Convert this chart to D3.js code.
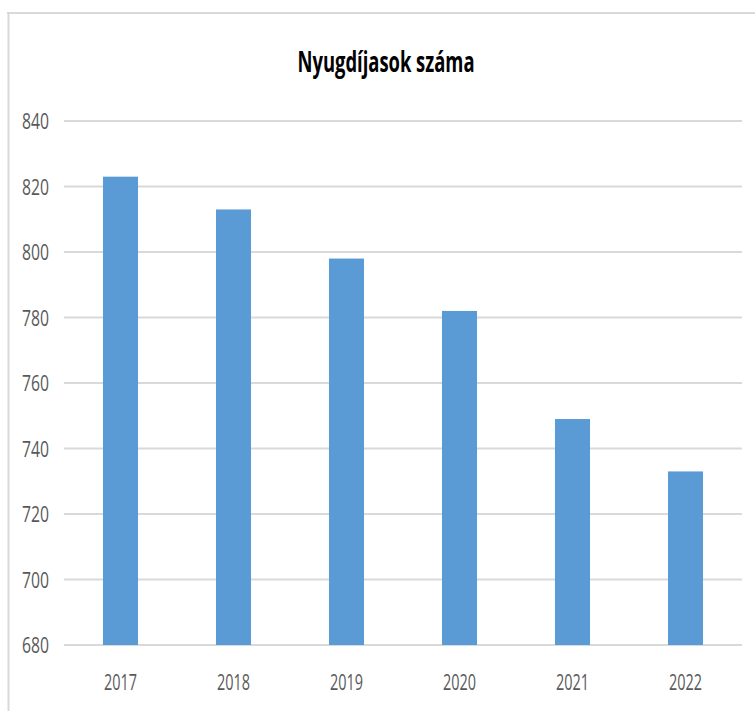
<!DOCTYPE html>
<html>
<head>
<meta charset="utf-8">
<script src="https://cdn.jsdelivr.net/npm/d3@7"></script>
<style>
  html, body { margin: 0; padding: 0; background: #fff; }
  svg { display: block; }
</style>
</head>
<body>
<script>
// Pensioner counts by year
const years = ["2017", "2018", "2019", "2020", "2021", "2022"];
const pensioners = [823, 813, 798, 782, 749, 733];
const yTicks = [680, 700, 720, 740, 760, 780, 800, 820, 840];
const title = "Nyugdíjasok száma";

const W = 755, H = 711;
const svg = d3.select("body").append("svg")
  .attr("width", W).attr("height", H);

// Frame (top and left edges)
svg.append("line").attr("x1", 7).attr("x2", W).attr("y1", 13).attr("y2", 13)
  .attr("stroke", "#d9d9d9").attr("stroke-width", 2);
svg.append("line").attr("x1", 8.5).attr("x2", 8.5).attr("y1", 12).attr("y2", H)
  .attr("stroke", "#d9d9d9").attr("stroke-width", 2);

const x = d3.scaleBand().domain(years).range([64, 742]).paddingInner(0.69).paddingOuter(0.345);
const y = d3.scaleLinear().domain([680, 840]).range([645, 121]);

// Title (narrow face emulated by textLength)
svg.append("text")
  .attr("x", 386).attr("y", 72)
  .attr("text-anchor", "middle")
  .attr("font-family", "'Open Sans', 'Noto Sans', sans-serif")
  .attr("font-weight", "bold")
  .attr("font-size", 28)
  .attr("fill", "#000")
  .attr("textLength", 177).attr("lengthAdjust", "spacingAndGlyphs")
  .text(title);

// Gridlines
svg.append("g").selectAll("line").data(yTicks).join("line")
  .attr("x1", 64).attr("x2", 742)
  .attr("y1", d => y(d)).attr("y2", d => y(d))
  .attr("stroke", "#d9d9d9").attr("stroke-width", 2);

// Y axis labels
const yAxis = svg.append("g").attr("transform", "translate(64,0)")
  .call(d3.axisLeft(y).tickValues(yTicks).tickSize(0).tickPadding(15));
yAxis.select(".domain").remove();
yAxis.selectAll("text")
  .attr("font-family", "'Open Sans', 'Noto Sans', sans-serif")
  .attr("font-size", 22).attr("fill", "#595959")
  .attr("dy", "0.36em")
  .attr("textLength", 27).attr("lengthAdjust", "spacingAndGlyphs");

// Bars
svg.append("g").selectAll("rect").data(years).join("rect")
  .attr("x", d => x(d)).attr("width", x.bandwidth())
  .attr("y", (d, i) => y(pensioners[i]))
  .attr("height", (d, i) => y(680) - y(pensioners[i]))
  .attr("fill", "#5b9bd5");

// X axis labels
const xAxis = svg.append("g").attr("transform", "translate(0,645)")
  .call(d3.axisBottom(x).tickSize(0));
xAxis.select(".domain").remove();
xAxis.selectAll("text")
  .attr("y", 45).attr("dy", 0)
  .attr("font-family", "'Open Sans', 'Noto Sans', sans-serif")
  .attr("font-size", 22).attr("fill", "#595959")
  .attr("textLength", 33).attr("lengthAdjust", "spacingAndGlyphs");
</script>
</body>
</html>
